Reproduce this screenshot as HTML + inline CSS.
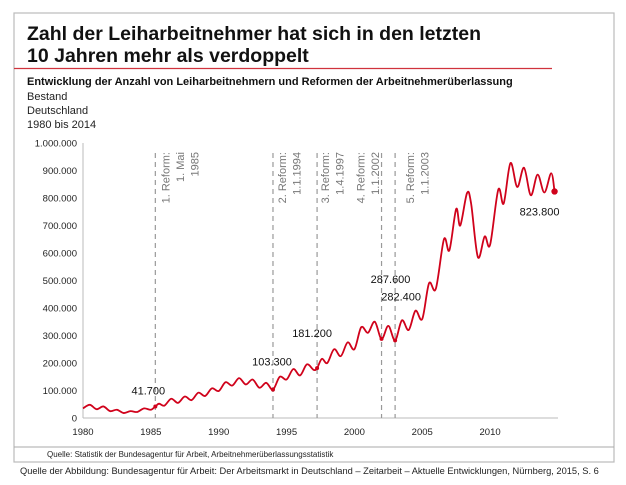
<!DOCTYPE html>
<html><head><meta charset="utf-8"><style>
body{margin:0;background:#fff;width:626px;height:480px;overflow:hidden;font-family:"Liberation Sans",sans-serif}
svg text{font-family:"Liberation Sans",sans-serif}
</style></head><body>
<svg id="c" width="626" height="480" xmlns="http://www.w3.org/2000/svg">
<rect x="14" y="13" width="600" height="449" fill="none" stroke="#bbb" stroke-width="1.2"/>
<text x="27" y="40" font-size="19.5" font-weight="bold" fill="#111">Zahl der Leiharbeitnehmer hat sich in den letzten</text>
<text x="27" y="62" font-size="19.5" font-weight="bold" fill="#111">10 Jahren mehr als verdoppelt</text>
<line x1="14" y1="68.5" x2="552" y2="68.5" stroke="#d0333d" stroke-width="1.3"/>
<text x="27" y="85" font-size="11" font-weight="bold" fill="#111">Entwicklung der Anzahl von Leiharbeitnehmern und Reformen der Arbeitnehmerüberlassung</text>
<text x="27" y="100" font-size="11" fill="#222">Bestand</text>
<text x="27" y="114" font-size="11" fill="#222">Deutschland</text>
<text x="27" y="128" font-size="11" fill="#222">1980 bis 2014</text>
<line x1="14" y1="447" x2="614" y2="447" stroke="#aaa" stroke-width="1"/>
<text x="47" y="457" font-size="8" fill="#222">Quelle: Statistik der Bundesagentur für Arbeit, Arbeitnehmerüberlassungsstatistik</text>
<text x="20" y="474" font-size="9.3" fill="#222">Quelle der Abbildung: Bundesagentur für Arbeit: Der Arbeitsmarkt in Deutschland – Zeitarbeit – Aktuelle Entwicklungen, Nürnberg, 2015, S. 6</text>
<g id="plot"></g>
</svg>
<script>
const years=[1980,1980.5,1981,1981.5,1982,1982.5,1983,1983.5,1984,1984.5,1985,1985.33,1985.6,1986,1986.5,1987,1987.5,1988,1988.5,1989,1989.5,1990,1990.5,1991,1991.5,1992,1992.5,1993,1993.5,1994,1994.5,1995,1995.5,1996,1996.5,1997,1997.25,1997.6,1998,1998.5,1999,1999.5,2000,2000.5,2001,2001.5,2002,2002.5,2003,2003.5,2004,2004.5,2005,2005.5,2006,2006.6,2007,2007.5,2007.8,2008.3,2008.6,2009.1,2009.6,2010,2010.6,2011,2011.5,2012,2012.5,2013,2013.5,2014,2014.5,2014.75];
const values=[35,48,32,42,25,30,18,25,22,35,30,41.7,52,45,70,55,78,65,92,80,108,98,130,118,145,122,140,110,128,103.3,150,140,178,155,195,175,181.2,215,200,250,225,275,250,330,310,350,287.6,335,282.4,355,320,390,360,490,470,650,610,760,700,818,780,585,660,630,830,780,927,840,910,810,885,820,890,823.8];
const yTicks=[0,100000,200000,300000,400000,500000,600000,700000,800000,900000,1000000];
const yTickLabels=["0","100.000","200.000","300.000","400.000","500.000","600.000","700.000","800.000","900.000","1.000.000"];
const xTicks=[1980,1985,1990,1995,2000,2005,2010];
const reformDates=[1985.33,1994,1997.25,2002,2003];
const reformLine1=["1. Reform:","2. Reform:","3. Reform:","4. Reform:","5. Reform:"];
const reformLine2=["1. Mai","1.1.1994","1.4.1997","1.1.2002","1.1.2003"];
const reformLine3=["1985","","","",""];
const reformTextShift=[14,13,12,-17,19];
const markedYears=[1985.33,1994,1997.25,2002,2003,2014.75];
const markedLabels=["41.700","103.300","181.200","287.600","282.400","823.800"];
const labelOffsets=[[-7,-12],[-1,-24],[-5,-31],[9,-56],[6,-40],[-15,24]];

const NS="http://www.w3.org/2000/svg";
const g=document.getElementById('plot');
const X=y=>83+(y-1980)*13.57;
const Y=v=>418-v*0.275/1000;
function el(t,a){const e=document.createElementNS(NS,t);for(const k in a)e.setAttribute(k,a[k]);g.appendChild(e);return e;}
let ax=el('line',{x1:83,y1:418,x2:558,y2:418,stroke:'#bbb','stroke-width':1});


let ay=el('line',{x1:83,y1:143,x2:83,y2:418,stroke:'#bbb','stroke-width':1});


yTicks.forEach((v,i)=>{const t=el('text',{x:77,y:Y(v*1)+3.5,'font-size':9.5,'text-anchor':'end',fill:'#222'});t.textContent=yTickLabels[i];

});
xTicks.forEach(v=>{const t=el('text',{x:X(v),y:435,'font-size':9.5,'text-anchor':'middle',fill:'#222'});t.textContent=v;

});
reformDates.forEach((d,i)=>{const x=X(d);
const l=el('line',{x1:x,y1:153,x2:x,y2:418,stroke:'#999','stroke-width':1.2,'stroke-dasharray':'5,4'});


const lines=[reformLine1[i],reformLine2[i],reformLine3[i]].filter(s=>s);
lines.forEach((s,j)=>{const tx=x+reformTextShift[i]+j*14.5,ty=152;const t=el('text',{x:tx,y:ty,'font-size':11,'text-anchor':'end',fill:'#777',transform:`rotate(-90 ${tx} ${ty})`});t.textContent=s;

});});
const pts=years.map((y,i)=>[X(y),Y(values[i]*1000)]);
let d=`M${pts[0][0]},${pts[0][1]}`;
for(let i=0;i<pts.length-1;i++){const p0=pts[Math.max(0,i-1)],p1=pts[i],p2=pts[i+1],p3=pts[Math.min(pts.length-1,i+2)];
const c1=[p1[0]+(p2[0]-p0[0])/6,p1[1]+(p2[1]-p0[1])/6],c2=[p2[0]-(p3[0]-p1[0])/6,p2[1]-(p3[1]-p1[1])/6];
d+=` C${c1[0]},${c1[1]} ${c2[0]},${c2[1]} ${p2[0]},${p2[1]}`;}
const path=el('path',{d:d,fill:'none',stroke:'#d0021b','stroke-width':1.8});


markedYears.forEach((y,i)=>{const idx=years.indexOf(y);const cx=X(y),cy=Y(values[idx]*1000);
const c=el('circle',{cx:cx,cy:cy,r:i==5?3.2:2,fill:'#d0021b'});


const t=el('text',{x:cx+labelOffsets[i][0],y:cy+labelOffsets[i][1],'font-size':11,'text-anchor':'middle',fill:'#111'});t.textContent=markedLabels[i];

});
</script>
</body></html>
